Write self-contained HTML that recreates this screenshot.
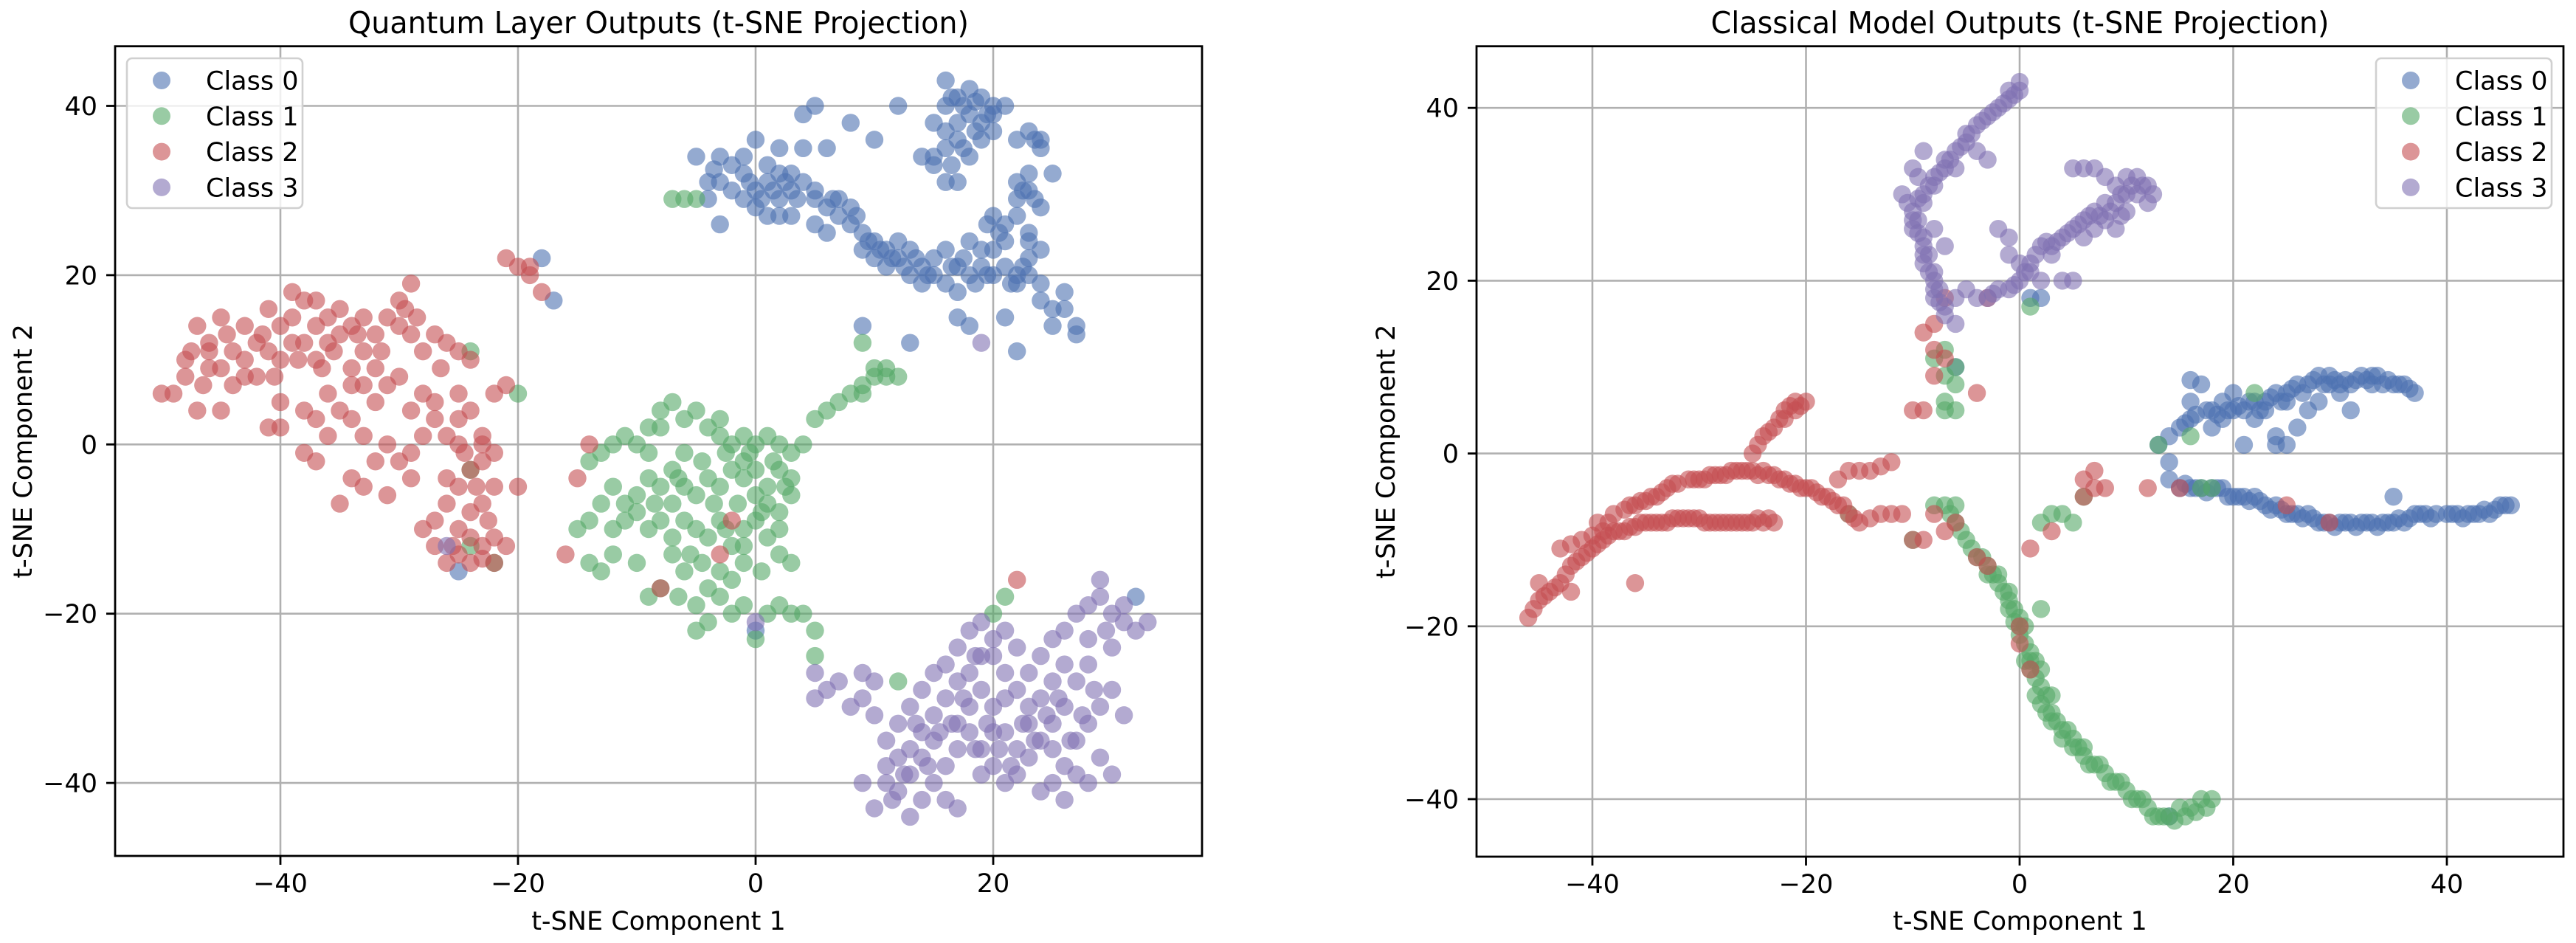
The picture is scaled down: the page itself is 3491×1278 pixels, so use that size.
<!DOCTYPE html>
<html><head><meta charset="utf-8"><style>
html,body{margin:0;padding:0;background:#fff;}
svg text{font-family:"DejaVu Sans","Liberation Sans",sans-serif;fill:#000;}
</style></head><body>
<svg id="fig" xmlns="http://www.w3.org/2000/svg" width="3491" height="1273" viewBox="0 0 3491 1273">
<rect x="0" y="0" width="3491" height="1273" fill="#fff"/>
<g id="p1"></g>
<g id="p2"></g>
</svg>
<script>
const classNames = ["Class 0","Class 1","Class 2","Class 3"];
const classColors = ["#4c72b0","#55a868","#c44e52","#8172b2"];
const xTicksQ = [-40,-20,0,20];
const yTicksQ = [-40,-20,0,20,40];
const xTicksC = [-40,-20,0,20,40];
const yTicksC = [-40,-20,0,20,40];

const q0 = [[-5,34],[-4,31],[-3,34],[-2,33],[-1,32],[0,30],[0,28],[1,31],[1,33],[2,32],[2,29],[3,30],[-4,29],[-2,30],[-1,29],[0,36],[-1,34],[1,27],[2,27],[3,32],[4,31],[5,30],[5,29],[6,28],[7,29],[7,27],[8,28],[8,26],[9,25],[9,23],[10,24],[10,22],[11,23],[11,21],[12,22],[12,24],[13,20],[13,23],[14,21],[15,20],[15,22],[16,19],[16,23],[17,18],[18,20],[19,21],[20,20],[20,23],[21,21],[22,20],[22,19],[23,20],[24,19],[21,24],[22,27],[20,27],[21,26],[23,25],[23,22],[24,23],[18,24],[19,23],[17,21],[14,19],
[15,34],[16,35],[16,37],[17,38],[16,40],[17,41],[16,43],[18,42],[19,41],[20,40],[18,39],[19,38],[20,37],[17,36],[19,36],[18,34],[15,33],[14,34],[17,31],[16,31],[20,39],[21,40],[15,38],
[22,36],[23,37],[24,36],[24,35],[23,32],[22,31],[22,29],[23,30],[25,32],[24,28],[26,18],[26,16],[27,14],[27,13],[25,14],[24,17],[25,16],[21,15],[23,24],
[4,39],[5,40],[12,40],[8,38],[10,36],[4,35],[6,35],[-3,26],[5,26],[9,14],[13,12],[17,15],[18,14],[22,11],[-18,22],[-17,17],[-25,-15],[3,27],[6,25],[2,35],[-3,31],[32,-18],[0,-22],
[-3.5,32.5],[-0.5,31],[0.5,29],[1.5,30],[2.5,31],[3.5,29],[6.5,29],[8.5,27],[9.5,24],[10.5,23],[11.5,22],[12.5,21],[13.5,22],[14.5,20],[16.5,21],[17.5,22],[18.5,19],[19.5,20],[21.5,19],[22.5,21],[16.5,41],[17.5,40],[18.5,40.5],[19.5,39],[18.5,37],[16.5,33],[17.5,35],[23.5,36],[22.5,30],[23.5,29],[20.5,25],[19.5,26]];
const q1 = [[-14,-2],[-13,-1],[-12,0],[-11,1],[-10,0],[-9,2],[-8,4],[-7,5],[-6,3],[-5,4],[-4,2],[-3,1],[-2,0],[-1,1],[0,0],[1,1],[2,0],[3,-1],[4,0],[3,-4],[2,-3],[1,-5],[0,-6],[-1,-4],[-2,-3],[-3,-5],[-4,-4],[-5,-6],[-6,-5],[-7,-3],[-8,-5],[-9,-4],[-10,-6],[-11,-7],[-12,-5],[-13,-7],[-14,-9],[-15,-10],[-12,-10],[-11,-9],[-10,-8],[-9,-10],[-8,-9],[-7,-11],[-6,-9],[-5,-10],[-4,-11],[-3,-9],[-2,-12],[-1,-10],[0,-9],[1,-11],[2,-8],[3,-6],[2,-13],[-1,-14],[-2,-16],[-3,-18],[-4,-17],[-5,-19],[-6,-15],[-7,-13],[-8,-17],[-9,-18],[-10,-14],[-12,-13],[-13,-15],[-14,-14],[-4,-21],[-5,-22],[-2,-20],[-1,-19],[0,-23],[1,-20],[2,-19],[3,-20],[4,-20],[3,-14],[2,-10],[-6,-1],[-7,-7],[-9,-1],[-8,2],[-3,3],[-1,-2],[1,-7],[0,-3],
[5,3],[6,4],[7,5],[8,6],[9,6],[9,7],[10,8],[10,9],[11,9],[11,8],[12,8],[9,12],[5,-22],[5,-25],[12,-28],[21,-18],[20,-20],[-7,29],[-6,29],[-5,29],[-24,11],[-20,6],[-24,-3],[-22,-14],[-24,-12],
[-2.5,-1],[-0.5,-1],[1.5,-2],[2.5,-5],[-4.5,-2],[-6.5,-4],[-8.5,-7],[-3.5,-7],[-1.5,-7],[0.5,-8],[-2.5,-10],[-4.5,-14],[-5.5,-13],[-1,-12],[0.5,-15],[-3,-15],[-6.5,-18]];
const q2 = [[-50,6],[-49,6],[-48,10],[-48,8],[-47,4],[-47,14],[-46,12],[-46,9],[-45,4],[-45,15],[-44,11],[-44,7],[-43,14],[-42,12],[-42,8],[-41,11],[-40,14],[-40,10],[-39,15],[-39,18],[-38,17],[-38,12],[-37,17],[-37,10],[-36,15],[-36,12],[-35,16],[-35,13],[-34,14],[-34,9],[-33,15],[-33,11],[-32,13],[-31,15],[-30,14],[-30,17],[-29,19],[-29,13],[-28,11],[-27,13],[-26,12],[-25,11],[-24,10],
[-41,2],[-40,5],[-38,4],[-37,3],[-36,6],[-35,4],[-34,3],[-33,1],[-36,1],[-38,-1],[-37,-2],[-34,-4],[-35,-7],[-33,-5],[-32,-2],[-31,0],[-30,-2],[-29,-1],[-28,1],[-27,3],[-26,1],[-27,5],[-28,6],[-30,8],[-31,7],[-32,9],[-34,7],
[-26,-4],[-25,-5],[-24,-3],[-23,-2],[-22,-1],[-23,1],[-24,4],[-25,6],[-22,6],[-21,7],[-26,-7],[-25,-10],[-27,-9],[-24,-8],[-23,-7],[-22,-5],[-20,-5],[-27,-12],[-26,-14],[-25,-13],[-24,-14],[-23,-12],[-22,-11],[-21,-12],[-24,-11],[-22,-14],[-29,-4],[-31,-6],[-40,2],[-16,-13],[-8,-17],[-3,-13],[-2,-9],[-15,-4],[-14,0],[22,-16],[-21,22],[-20,21],[-19,20],[-18,18],[-19,21],[-23,0],[-25,0],[-46,11],[-45,9],[-43,10],[-41,16],[-39,12],[-37,14],
[-47.5,11],[-46.5,7],[-44.5,13],[-43,8],[-41.5,13],[-40.5,8],[-38.5,10],[-36.5,9],[-35.5,11],[-33.5,13],[-31.5,11],[-29.5,16],[-28.5,15],[-32,5],[-33,7],[-29,4],[-26.5,9],[-25,3],[-23.5,-5],[-24.5,-1],[-22.5,-9],[-23,-13.5],[-25.5,-12],[-28,-10]];
const q3 = [[5,-27],[6,-29],[7,-28],[8,-31],[9,-30],[5,-30],[10,-28],[9,-27],[10,-32],[11,-35],[12,-37],[13,-36],[14,-34],[15,-32],[16,-30],[17,-28],[18,-27],[19,-25],[20,-23],[21,-22],[22,-24],[23,-27],[24,-25],[25,-23],[26,-22],[27,-20],[28,-19],[29,-18],[29,-16],[30,-20],[31,-21],[32,-22],[33,-21],[30,-24],[28,-26],[27,-28],[26,-31],[25,-33],[24,-35],[23,-37],[22,-39],[21,-40],[20,-38],[19,-36],[18,-34],[17,-36],[16,-38],[15,-40],[14,-42],[13,-44],[12,-41],[11,-40],[9,-40],[10,-43],[16,-42],[17,-43],[22,-36],[23,-33],[21,-30],[20,-31],[19,-29],[18,-31],[17,-33],[15,-35],[14,-37],[13,-31],[14,-29],[15,-27],[16,-26],[17,-24],[18,-22],[19,-21],[20,-25],[22,-29],[24,-30],[25,-36],[26,-38],[27,-35],[28,-33],[29,-31],[30,-29],[31,-32],[29,-37],[28,-40],[25,-40],[26,-42],[24,-41],[27,-39],[12,-33],[11,-38],[13,-39],[20,-34],[23,-31],[26,-26],[28,-23],[30,-39],[25,-28],[21,-34],[19,-39],[-26,-12],[0,-21],[19,12],
[15.5,-34],[16.5,-33],[17.5,-30],[18.5,-36],[20.5,-36],[21.5,-38],[22.5,-33],[23.5,-35],[24.5,-32],[25.5,-30],[26.5,-35],[27.5,-32],[28.5,-29],[29.5,-22],[31,-19],[14.5,-38],[13.5,-33],[12.5,-39],[11.5,-42],[19.5,-33],[21,-27],[18.5,-25]];

const c0 = [[13,1],[14,2],[15,3],[16,4],[17,8],[18,5],[19,6],[20,5],[21,5],[22,6],[23,6],[24,7],[25,7],[26,8],[27,8],[28,9],[29,8],[30,8],[31,8],[32,9],[33,9],[34,8],[35,8],[36,8],[37,7],[21,1],[24,1],[26,3],[28,6],[31,5],[16,6],[19,4],[22,4],[25,6],[27,5],[30,7],[33,8],[18,3],[23,5],[29,9],
[15.5,3.5],[16.5,4.5],[17.5,5],[18.5,4.5],[19.5,5],[20.5,5.5],[21.5,6],[22.5,5],[23.5,6.5],[24.5,6],[25.5,7.5],[26.5,7],[27.5,8.5],[28.5,8],[29.5,8.5],[30.5,8.5],[31.5,8.5],[32.5,8.5],[33.5,9],[34.5,8.5],[35.5,8],[36.5,7.5],[16,8.5],[20,7],[24,2],[25,1],
[14,-1],[14,-3],[15,-4],[16,-4],[17,-4],[18,-4],[19,-4],[20,-5],[21,-5],[22,-5],[23,-6],[24,-6],[25,-7],[26,-7],[27,-7],[28,-8],[29,-8],[30,-8],[31,-8],[32,-8],[33,-8],[34,-8],[35,-8],[36,-8],[37,-7],[38,-7],[39,-7],[40,-7],[41,-7],[42,-7],[43,-7],[44,-7],[45,-6],[46,-6],[35,-5],[2,18],[1,18],[-6,10],[14,-42],
[15.5,-3.5],[16.5,-4],[17.5,-4.5],[18.5,-4],[19.5,-5],[20.5,-5],[21.5,-5.5],[22.5,-5.5],[23.5,-6.5],[24.5,-6.5],[25.5,-7],[26.5,-7.5],[27.5,-7.5],[28.5,-8],[29.5,-8.5],[30.5,-8],[31.5,-8.5],[32.5,-8],[33.5,-8.5],[34.5,-8],[35.5,-7.5],[36.5,-7.5],[37.5,-7],[38.5,-7.5],[40.5,-7],[41.5,-7.5],[42.5,-7],[43.5,-6.5],[44.5,-6.5],[45.5,-6]];
const c1 = [[-7,-6],[-6,-8],[-5,-10],[-4,-12],[-3,-13],[-2,-15],[-1,-17],[0,-19],[0,-21],[1,-23],[1,-25],[2,-27],[2,-29],[3,-30],[4,-32],[5,-33],[6,-35],[7,-36],[8,-37],[9,-38],[10,-39],[11,-40],[12,-41],[13,-42],[14,-42],[15,-41],[16,-41],[17,-40],[18,-40],[2,-18],[-1,-16],[-2,-14],[3,-28],[6,-34],[-0.5,-18],[0.5,-22],[1.5,-26],[2.5,-28],[3.5,-31],[4.5,-32],[5.5,-34],[7.5,-36],[9.5,-38],[11.5,-40],[13.5,-42],[-4.5,-11],[-3.5,-12],[-2.5,-14],[-1.5,-16],[1,-24],
[-6.5,-7],[-5.5,-9],[-3,-14],[-1,-18],[0.5,-20],[0.5,-24],[1.5,-28],[2.5,-30],[3,-31],[4,-33],[5,-34],[6.5,-36],[8.5,-38],[10.5,-40],[12.5,-42],[14.5,-42.5],[15.5,-42],[16.5,-41.5],[17.5,-41],[1.5,-24],[2,-25],[0,-20],[-0.5,-19.5],
[-7,6],[-7,5],[-6,8],[-7,9],[-8,11],[-7,12],[-6,10],[-6,5],[3,-7],[4,-7],[5,-8],[2,-8],[-10,-10],[1,17],[13,1],[16,2],[17,-4],[18,-4],[22,7],[6,-5],[-6,-6],[-8,-6],[-16,-7]];
const c2 = [[-46,-19],[-45,-17],[-44,-16],[-43,-15],[-42,-13],[-41,-12],[-40,-11],[-39,-10],[-38,-9],[-37,-9],[-36,-8.5],[-35,-8],[-34,-8],[-33,-8],[-32,-7.5],[-31,-7.5],[-30,-7.5],[-29,-8],[-28,-8],[-27,-8],[-26,-8],[-25,-8],[-24,-8],[-23,-8],
[-45.5,-18],[-44.5,-16.5],[-43.5,-15.5],[-42.5,-14],[-41.5,-12.5],[-40.5,-11.5],[-39.5,-10.5],[-38.5,-9.5],[-37.5,-9],[-36.5,-8.5],[-35.5,-8],[-34.5,-8],[-33.5,-8],[-32.5,-7.5],[-31.5,-7.5],[-30.5,-7.5],[-29.5,-8],[-28.5,-8],[-27.5,-8],[-26.5,-8],[-25.5,-8],[-24.5,-7.5],[-23.5,-7.5],
[-43,-11],[-42,-10.5],[-41,-10],[-40,-9.5],[-39,-9],[-38,-7],[-37,-6.5],[-36,-6],[-35,-5.5],[-34,-5],[-33,-4],[-32,-3.5],[-31,-3],[-30,-3],[-29,-2.5],[-28,-2.5],[-27,-2],[-26,-2],[-25,-2],[-24,-2],[-23,-2.5],[-22,-3],[-21,-3.5],[-20,-4],[-19,-4.5],[-18,-5],[-17,-6],[-16,-7],[-15,-8],[-14,-7.5],[-13,-7],[-12,-7],[-11,-7],
[-39.5,-8],[-38.5,-8],[-36.5,-6],[-35.5,-5.5],[-34.5,-5],[-33.5,-4.5],[-32.5,-3.5],[-30.5,-3],[-29.5,-3],[-28.5,-2.5],[-27.5,-2.5],[-26.5,-2],[-25.5,-2],[-24.5,-2.5],[-23.5,-2.5],[-22.5,-3],[-21.5,-3.5],[-20.5,-4],[-19.5,-4],[-18.5,-5],[-17.5,-5.5],[-16.5,-6],[-15.5,-7.5],
[-25,0],[-24,2],[-23,3],[-22,5],[-21,6],[-20,6],[-22,4],[-21,5],[-24.5,1],[-23.5,2.5],[-22.5,4],[-21.5,5.5],[-20.5,5.5],[-17,-3],[-16,-2],[-15,-2],[-14,-2],[-13,-1.5],[-12,-1],
[-8,-7],[-7,-9],[-6,-8],[-4,-12],[-3,-13],[0,-20],[0,-22],[1,-25],[-9,-10],[-10,-10],[-9,5],[-10,5],[-9,14],[-8,15],[-8,12],[-7,11],[-8,9],[-4,7],[-7,18],[-3,18],[6,-3],[7,-4],[6,-5],[8,-4],[7,-2],[3,-9],[1,-11],[12,-4],[15,-4],[25,-6],[29,-8],[-36,-15],[-42,-16],[-45,-15]];
const c3 = [[0,42],[-1,41],[-2,40],[-3,39],[-4,38],[-5,37],[-5,36],[-6,35],[-7,34],[-7,33],[-8,32],[-8,31],[-9,30],[-9,29],[-10,28],[-10,27],[-10,26],[-9,25],[-9,24],[-9,23],[-9,22],[-8,21],[-8,20],[-8,19],[-8,18],[-7,17],[-7,16],[-6,15],[-11,30],[-10,33],[-9,35],[-6,33],[-4,35],[-3,34],[-1,42],[0,43],[-7,24],[-8,26],
[-0.5,41.5],[-1.5,40.5],[-2.5,39.5],[-3.5,38.5],[-4.5,37],[-5.5,35.5],[-6.5,34],[-7.5,32.5],[-8.5,31],[-9.5,29.5],[-9.5,27],[-9.5,25.5],[-8.5,23],[-8.5,21],[-7.5,19],[-7.5,17.5],[-10.5,29],[-9.5,32],
[-3,18],[-2,19],[-1,19],[0,20],[1,22],[2,24],[3,24],[4,25],[5,26],[6,27],[7,28],[8,27],[9,26],[10,28],[11,30],[12,31],[11,32],[10,32],[9,31],[8,32],[7,33],[6,33],[5,33],[10,30],[9,29],[8,29],[7,26],[12,29],
[-2.5,18.5],[-0.5,19.5],[0.5,21],[1.5,23],[2.5,24.5],[3.5,24.5],[4.5,25.5],[5.5,26.5],[6.5,27.5],[7.5,27.5],[8.5,28],[9.5,30],[10.5,31],[11.5,31],[12.5,30],[9.5,27.5],
[-2,26],[-1,25],[-1,23],[0,22],[1,21],[2,20],[4,20],[5,20],[-5,19],[-4,18],[-6,18],[3,23],[6,25]];

const panels = [
 {g:"p1", L:156, R:1629, T:62.7, B:1160, x0:1024, kx:16.1, y0:602.3, ky:11.47, xt:xTicksQ, yt:yTicksQ,
  title:"Quantum Layer Outputs (t-SNE Projection)", tw:841, series:[q0,q1,q2,q3], legX:172, yl:31, key:"quantum"},
 {g:"p2", L:2001, R:3474, T:62.7, B:1161, x0:2737, kx:14.475, y0:614.6, ky:11.71, xt:xTicksC, yt:yTicksC,
  title:"Classical Model Outputs (t-SNE Projection)", tw:838, series:[c0,c1,c2,c3], legX:3220, yl:1878, key:"classical"}
];
const NS="http://www.w3.org/2000/svg";
function mk(tag, attrs, parent){const e=document.createElementNS(NS,tag);for(const k in attrs)e.setAttribute(k,attrs[k]);parent.appendChild(e);return e;}

panels.forEach(p=>{
  const g=document.getElementById(p.g);
  const sx=v=>p.x0+v*p.kx, sy=v=>p.y0-v*p.ky;
  const cx=(p.L+p.R)/2, cy=(p.T+p.B)/2;
  const clipId="clip-"+p.key;
  const defs=mk("defs",{},g);
  const cp=mk("clipPath",{id:clipId},defs);
  mk("rect",{x:p.L,y:p.T,width:p.R-p.L,height:p.B-p.T},cp);
  p.xt.forEach(v=>{
    const l=mk("line",{x1:sx(v),x2:sx(v),y1:p.T,y2:p.B,stroke:"#b0b0b0","stroke-width":2.6},g);
    
    
  });
  p.yt.forEach(v=>{
    const l=mk("line",{x1:p.L,x2:p.R,y1:sy(v),y2:sy(v),stroke:"#b0b0b0","stroke-width":2.6},g);
    
    
  });
  const pg=mk("g",{"clip-path":"url(#"+clipId+")"},g);
  
  
  p.series.forEach((s,ci)=>{
    s.forEach(pt=>{
      const c=mk("circle",{cx:sx(pt[0]),cy:sy(pt[1]),r:12.2,fill:classColors[ci],"fill-opacity":0.6},pg);
      
      
    });
  });
  const sp=mk("rect",{x:p.L,y:p.T,width:p.R-p.L,height:p.B-p.T,fill:"none",stroke:"#000","stroke-width":2.8},g);
  
  
  p.xt.forEach(v=>{
    const t=mk("line",{x1:sx(v),x2:sx(v),y1:p.B,y2:p.B+12,stroke:"#000","stroke-width":2.8},g);
    
    
    const tx=mk("text",{x:sx(v),y:p.B+49,"font-size":35,"text-anchor":"middle"},g);
    tx.textContent=(v<0?"\u2212":"")+Math.abs(v);
    
    
  });
  p.yt.forEach(v=>{
    const t=mk("line",{x1:p.L-12,x2:p.L,y1:sy(v),y2:sy(v),stroke:"#000","stroke-width":2.8},g);
    
    
    const tx=mk("text",{x:p.L-24,y:sy(v)+12.5,"font-size":35,"text-anchor":"end"},g);
    tx.textContent=(v<0?"\u2212":"")+Math.abs(v);
    
    
  });
  const xl=mk("text",{x:cx,y:1260,"font-size":35,"text-anchor":"middle"},g);
  xl.textContent="t-SNE Component 1";
  
  
  const yl=mk("text",{x:0,y:0,"font-size":35,"text-anchor":"middle",transform:"translate("+(p.yl+12)+","+cy+") rotate(-90)"},g);
  yl.textContent="t-SNE Component 2";
  
  
  const ti=mk("text",{x:cx,y:45,"font-size":41,"text-anchor":"middle",textLength:p.tw,lengthAdjust:"spacingAndGlyphs"},g);
  ti.textContent=p.title;
  
  
  const lg=mk("g",{},g);
  
  
  mk("rect",{x:p.legX,y:79,width:238,height:203,rx:7,fill:"#fff","fill-opacity":0.8,stroke:"#d0d0d0","stroke-width":2.6},lg);
  classNames.forEach((n,i)=>{
    const yy=109+i*48.3;
    const m=mk("circle",{cx:p.legX+47,cy:yy,r:12,fill:classColors[i],"fill-opacity":0.6},lg);
    
    
    const t=mk("text",{x:p.legX+107,y:yy+12.5,"font-size":35},lg);
    t.textContent=n;
    
    
  });
});
</script>
</body></html>
